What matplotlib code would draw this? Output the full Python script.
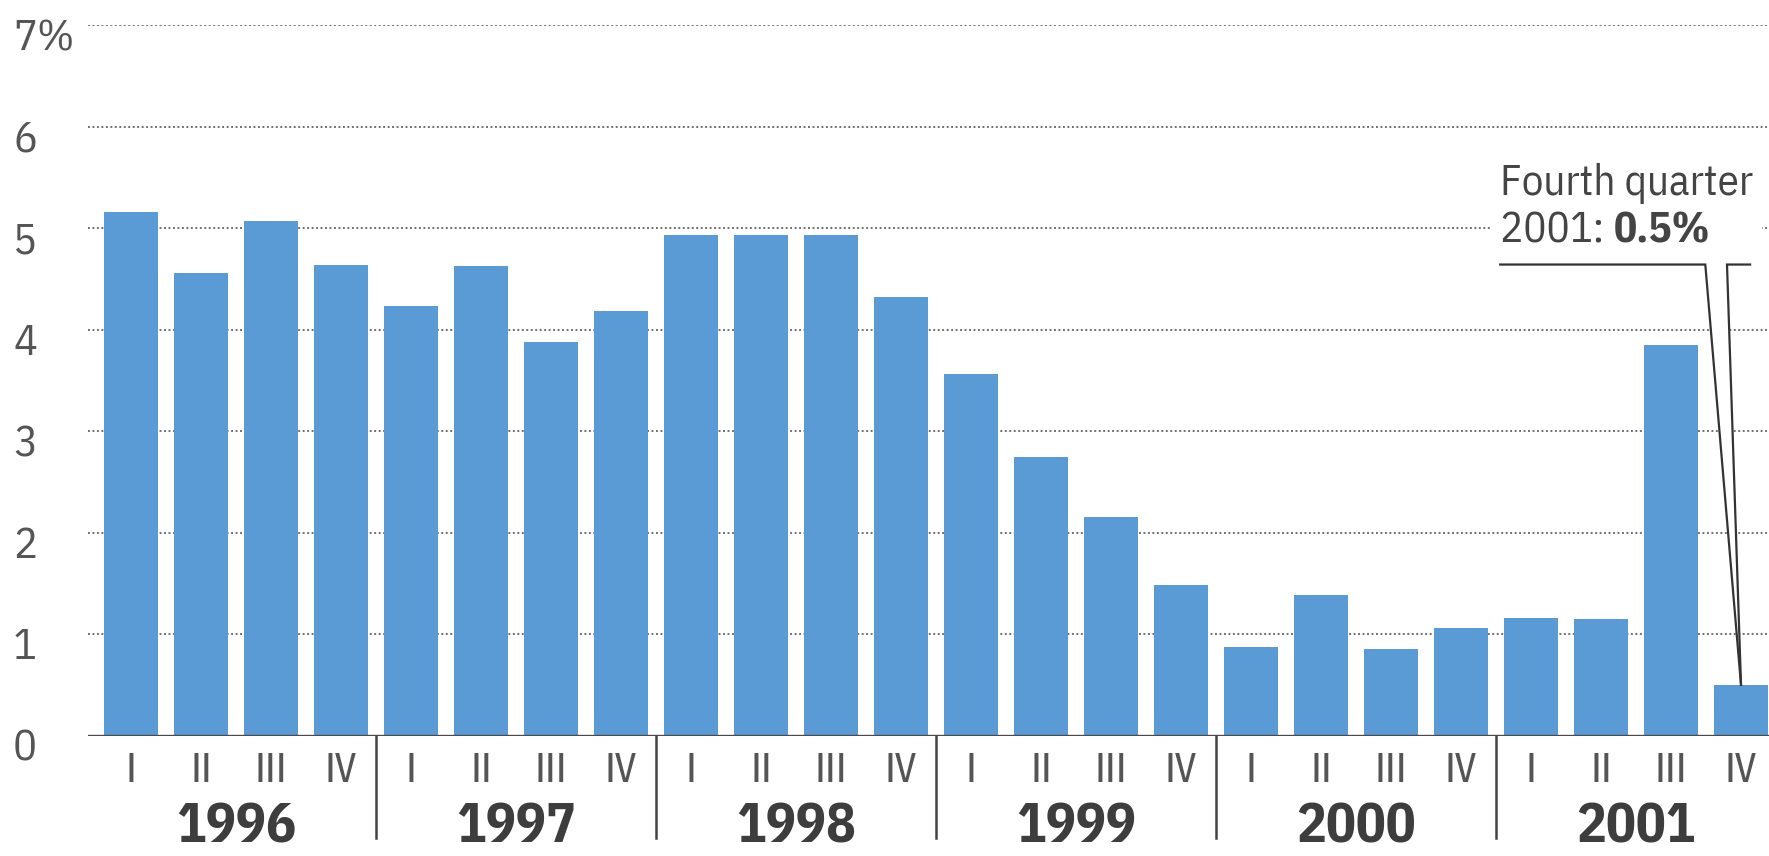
import matplotlib
matplotlib.use("Agg")
import matplotlib.pyplot as plt
import matplotlib.transforms as mtransforms

# Quarterly growth rate, percent
years = ["1996", "1997", "1998", "1999", "2000", "2001"]
quarters = ["I", "II", "III", "IV"]
growth = [
    5.16, 4.56, 5.07, 4.64,   # 1996
    4.23, 4.63, 3.88, 4.18,   # 1997
    4.93, 4.93, 4.93, 4.32,   # 1998
    3.56, 2.74, 2.15, 1.48,   # 1999
    0.87, 1.38, 0.85, 1.06,   # 2000
    1.16, 1.15, 3.85, 0.50,   # 2001
]
y_ticks = [0, 1, 2, 3, 4, 5, 6, 7]
callout_title = "Fourth quarter"

plt.rcParams["font.family"] = ["IBM Plex Sans Condensed", "DejaVu Sans"]
ROMAN_FONT = ["Fira Sans Condensed", "Roboto Condensed", "DejaVu Sans"]

BAR = "#5a9bd6"
GRID = "#707070"
TXT = "#555555"
DARK = "#3d3d3d"

W, H = 1769, 856
fig = plt.figure(figsize=(W / 100, H / 100), dpi=100, facecolor="white")
x0, y0, y_top = 88, 735.5, 25
ax = fig.add_axes([x0 / W, (H - y0) / H, (W - x0) / W, (y0 - y_top) / H])
ax.set_xlim(-0.614, 23.4)
ax.set_ylim(0, 7)
ax.axis("off")

xs = list(range(len(growth)))

# dotted horizontal gridlines and solid baseline
for v in y_ticks[1:]:
    ax.axhline(v, color=GRID, lw=1.4, ls=(0, (1.0, 1.3)), zorder=1)
ax.axhline(0, color="#4a4a4a", lw=2.4, zorder=4)

ax.bar(xs, growth, width=0.76, color=BAR, zorder=2, linewidth=0)

# y-axis labels, left aligned at the figure edge
ytrans = mtransforms.blended_transform_factory(ax.transAxes, ax.transData)
for v in y_ticks:
    label = f"{v}%" if v == y_ticks[-1] else str(v)
    ax.text(-0.0446, v - 0.25, label, transform=ytrans, ha="left", va="baseline",
            fontsize=32, color=TXT, clip_on=False)

# quarter and year labels below the baseline
xtrans = mtransforms.blended_transform_factory(ax.transData, ax.transAxes)
for i, x in enumerate(xs):
    ax.text(x, -0.0654, quarters[i % 4], transform=xtrans, ha="center", va="baseline",
            fontsize=30, color=TXT, clip_on=False, family=ROMAN_FONT)
n_q = len(quarters)
for k, yr in enumerate(years):
    centre = (xs[k * n_q] + xs[k * n_q + n_q - 1]) / 2
    ax.text(centre, -0.150, yr, transform=xtrans, ha="center", va="baseline",
            fontsize=40, fontweight="bold", color=DARK, clip_on=False)
    if k > 0:
        sep = xs[k * n_q] - 0.5
        ax.plot([sep, sep], [0, -0.144], transform=xtrans, color="#444444",
                lw=1.8, clip_on=False, zorder=4)

# callout for the latest quarter
qx, qv = xs[-1], growth[-1]
txt_x = qx - 3.44
line_y = 4.64
t1 = ax.text(txt_x, line_y + 0.69, callout_title, ha="left", va="baseline",
             fontsize=31, color="#444444", zorder=6)
t2 = ax.text(txt_x, line_y + 0.22, f"{years[-1]}: ", ha="left", va="baseline",
             fontsize=31, color="#444444", zorder=6)
ax.annotate(f"{qv:.1f}%", xy=(1, 0), xycoords=t2, ha="left", va="bottom",
            fontsize=31, fontweight="bold", color="#444444", zorder=6)
# white patch breaking the gridline behind the text
ax.fill_between([txt_x - 0.12, qx + 0.3], line_y + 0.12, line_y + 0.55,
                color="white", zorder=5, linewidth=0)

left_arm = [(txt_x, line_y), (qx - 0.51, line_y), (qx, qv)]
right_arm = [(qx + 0.13, line_y), (qx - 0.2, line_y), (qx, qv)]
ax.fill([left_arm[1][0], right_arm[1][0], qx], [line_y, line_y, qv],
        color="white", zorder=5, linewidth=0)
for arm in (left_arm, right_arm):
    ax.plot([p[0] for p in arm], [p[1] for p in arm], color="#333333", lw=1.6,
            zorder=6, solid_joinstyle="miter", clip_on=False)

fig.savefig("out.png", dpi=100, facecolor="white")
